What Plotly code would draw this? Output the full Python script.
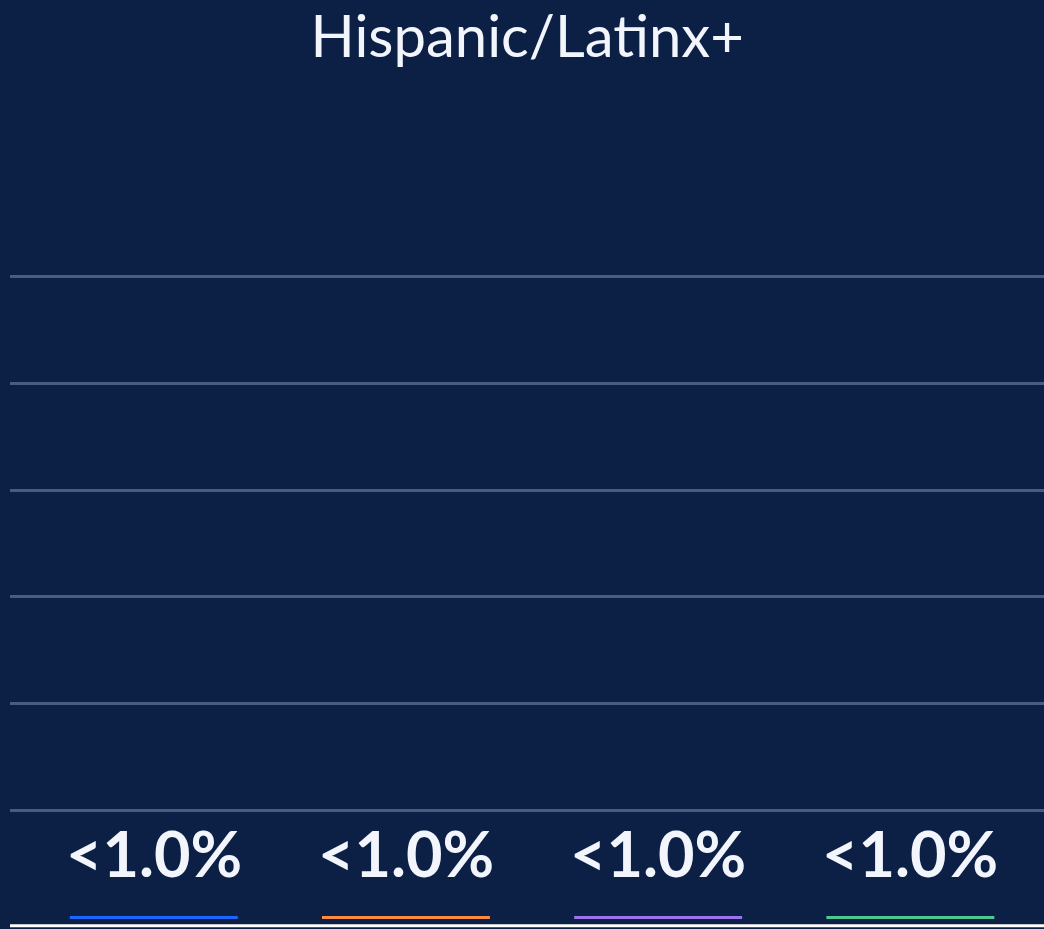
import plotly.graph_objects as go

NAVY = "#0C1F45"
GRID = "#4B5B7E"
WHITE = "#F3F5FC"

TITLE = "Hispanic/Latinx+"
categories = ["A", "B", "C", "D"]
values = [0, 0, 0, 0]
labels = ["<1.0%", "<1.0%", "<1.0%", "<1.0%"]
colors = ["#1A66FF", "#FF8A3D", "#9B72F2", "#4CC98F"]

fig = go.Figure(
    go.Bar(
        x=categories,
        y=values,
        marker=dict(color=colors, line=dict(width=0)),
        width=0.66,
        hoverinfo="skip",
    )
)

# value labels under each column
for cat, lab in zip(categories, labels):
    fig.add_annotation(
        x=cat, y=-0.066, xref="x", yref="paper",
        text=lab, showarrow=False, yanchor="middle",
        font=dict(family="Lato, sans-serif", size=63, color=WHITE, weight="bold"),
    )

# coloured underline for each column
for i, c in enumerate(colors):
    fig.add_shape(
        type="line", xref="x", yref="paper",
        x0=i - 0.333, x1=i + 0.333, y0=-0.168, y1=-0.168,
        line=dict(color=c, width=3),
    )

# white baseline at the bottom
fig.add_shape(
    type="line", xref="paper", yref="paper",
    x0=0, x1=1, y0=-0.181, y1=-0.181,
    line=dict(color="white", width=3),
)

fig.update_layout(
    width=1044,
    height=929,
    title=dict(
        text=TITLE, x=0.505, xanchor="center", y=0.96, yanchor="middle",
        font=dict(family="Lato, sans-serif", size=58, color=WHITE),
    ),
    xaxis=dict(
        range=[-0.57, 3.53], showticklabels=False, showgrid=False,
        zeroline=False, showline=False, fixedrange=True,
    ),
    yaxis=dict(
        range=[0, 60], tickvals=[0, 10, 20, 30, 40, 50], showticklabels=False,
        showgrid=True, gridcolor=GRID, gridwidth=2.5,
        zeroline=True, zerolinecolor=GRID, zerolinewidth=2.5,
        showline=False, fixedrange=True,
    ),
    margin=dict(l=10, r=0, t=170, b=119),
    plot_bgcolor=NAVY,
    paper_bgcolor=NAVY,
    showlegend=False,
)

fig.write_html(
    "out.html",
    config={"displayModeBar": False},
    post_script="document.body.style.margin='0';document.body.style.overflow='hidden';",
)
